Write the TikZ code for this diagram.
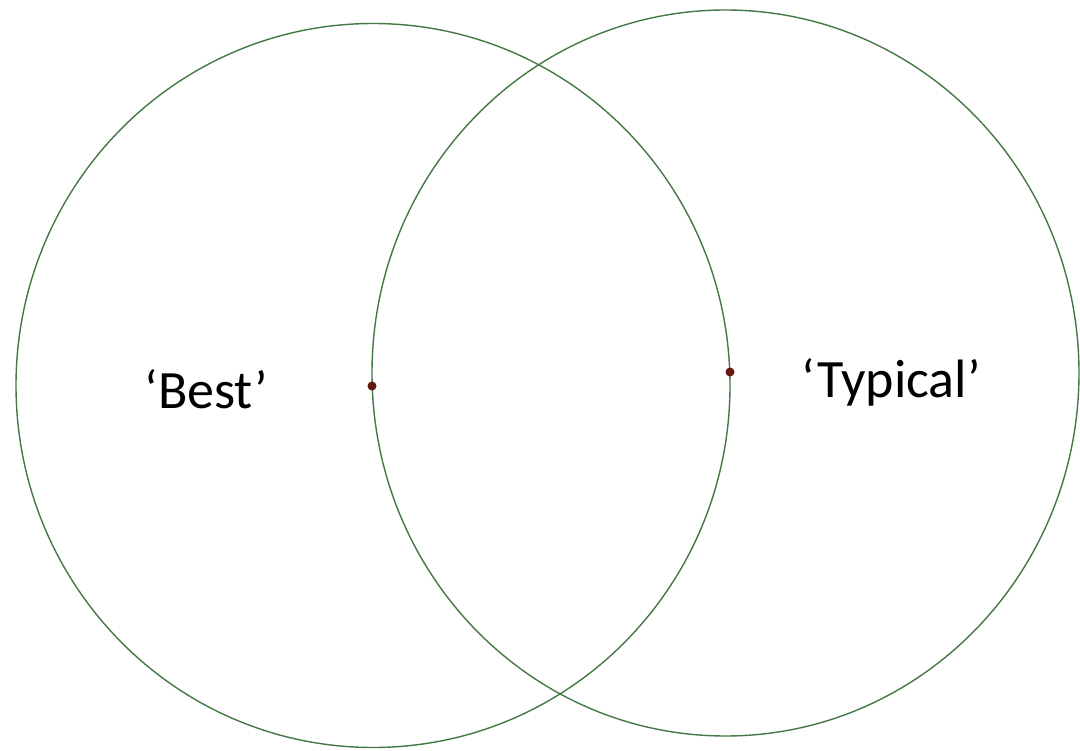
\documentclass[tikz,border=0pt]{standalone}
\usepackage{fontspec}
\setmainfont{Carlito}
\definecolor{ringgreen}{RGB}{70,120,70}
\definecolor{dotred}{RGB}{100,25,15}
\begin{document}
\begin{tikzpicture}[x=1pt,y=-1pt,
  ring/.style={draw=ringgreen,line width=1.4pt},
  centredot/.style={circle,fill=dotred,inner sep=0pt,minimum size=9pt},
  lbl/.style={font=\fontsize{54}{62}\selectfont,anchor=base,inner sep=0pt}]
\useasboundingbox (0,0) rectangle (1080,751);
\fill[white] (0,0) rectangle (1080,751);
\draw[ring] (373,385.5) ellipse [x radius=357, y radius=362];
\draw[ring] (725.5,373) ellipse [x radius=353.5, y radius=363];
\node[centredot] (best) at (372,386) {};
\node[centredot] (typical) at (730,372) {};
\node[lbl] (bestlbl) at (206.5,409) {‘Best’};
\node[lbl] (typlbl) at (891,398) {‘Typical’};
\end{tikzpicture}
\end{document}
